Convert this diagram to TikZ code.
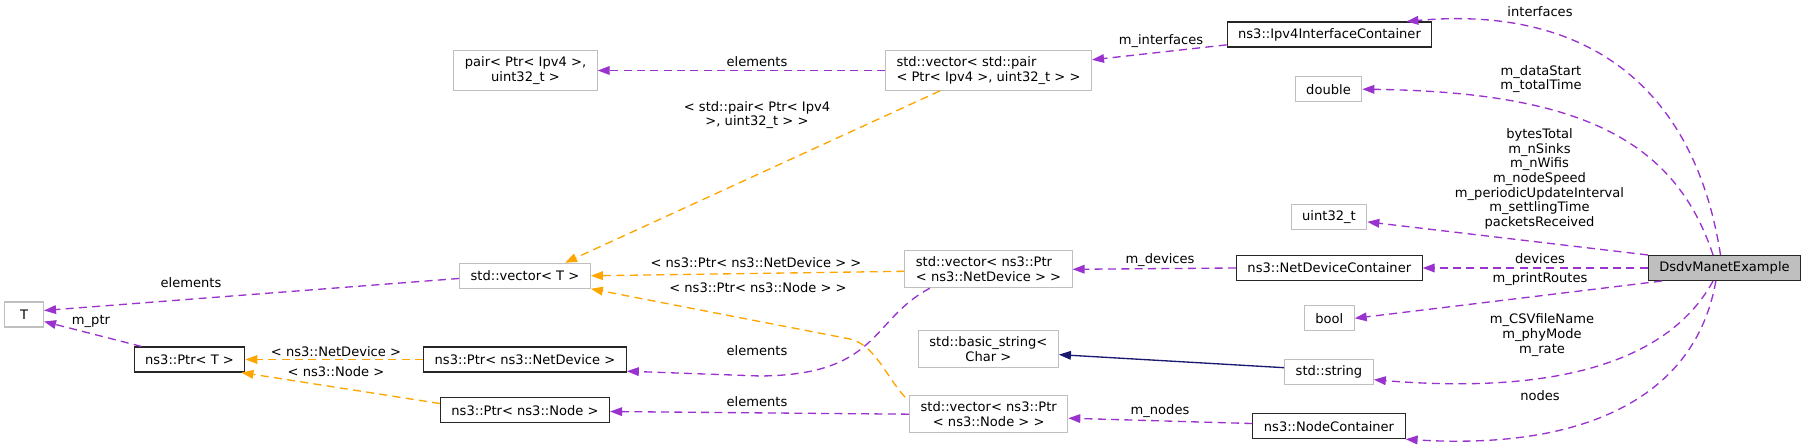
\documentclass[tikz,border=0pt]{standalone}
\usepackage{fontspec}
\setmainfont{DejaVu Sans}
\usetikzlibrary{arrows.meta}
\definecolor{usecol}{HTML}{9A32CD}
\definecolor{tplcol}{HTML}{FFA500}
\definecolor{inhcol}{HTML}{191970}
\definecolor{boxgray}{HTML}{BFBFBF}
\begin{document}
\begin{tikzpicture}[x=0.75pt, y=-0.75pt,
    font=\fontsize{9.8}{11}\selectfont,
    cls/.style={draw=black!85, line width=0.8pt, inner xsep=8.25pt, inner ysep=4.5pt, minimum height=18.75pt},
    ext/.style={cls, draw=boxgray},
    mainbox/.style={cls, fill=boxgray},
    use/.style={draw=usecol, line width=1pt, dash pattern=on 6pt off 4pt, -{Triangle[length=9pt,width=6.5pt]}},
    tpl/.style={use, draw=tplcol},
    inh/.style={draw=inhcol, line width=1pt, -{Triangle[length=9pt,width=6.5pt]}},
    lbl/.style={inner sep=0pt, align=center}]
    \useasboundingbox (0,0) rectangle (1807,445);

    % Classes
    \node[mainbox] (dsdv) at (1724.5,268) {DsdvManetExample};
    \node[cls] (ipv4IC) at (1329.5,34.5) {ns3::Ipv4InterfaceContainer};
    \node[ext] (double) at (1328.5,89.2) {double};
    \node[ext] (uint32) at (1329,217.2) {uint32\_t};
    \node[cls] (ndc) at (1329.3,268) {ns3::NetDeviceContainer};
    \node[ext] (bool) at (1329.2,318.3) {bool};
    \node[ext] (string) at (1329,371.7) {std::string};
    \node[cls] (nc) at (1329,426.2) {ns3::NodeContainer};
    \node[ext, align=left] (vecPair) at (988.5,70.5) {std::vector< std::pair\\< Ptr< Ipv4 >, uint32\_t > >};
    \node[ext, align=left] (vecND) at (988.5,269.3) {std::vector< ns3::Ptr\\< ns3::NetDevice > >};
    \node[ext, align=center] (basicStr) at (988.4,349.3) {std::basic\_string<\\Char >};
    \node[ext, align=center] (vecNode) at (988.7,414.2) {std::vector< ns3::Ptr\\< ns3::Node > >};
    \node[ext, align=center] (pair) at (525.5,70.5) {pair< Ptr< Ipv4 >,\\uint32\_t >};
    \node[ext] (vecT) at (525,275.8) {std::vector< T >};
    \node[cls] (ptrND) at (525,359.5) {ns3::Ptr< ns3::NetDevice >};
    \node[cls] (ptrNode) at (525,410.2) {ns3::Ptr< ns3::Node >};
    \node[cls] (ptrT) at (189.5,359.5) {ns3::Ptr< T >};
    \node[ext, minimum width=29.25pt] (T) at (24,314.5) {T};

    % Members of DsdvManetExample
    \draw[use] ([xshift=-3pt]dsdv.north) .. controls (1695,90) and (1590,5) .. ([xshift=-19.5pt]ipv4IC.north east);
    \node[lbl] at (1540,12) {interfaces};
    \draw[use] ([xshift=-8.6pt]dsdv.north) .. controls (1675,140) and (1580,92) .. (double.east);
    \node[lbl] at (1541,79) {m\_dataStart\\m\_totalTime};
    \draw[use] (dsdv.north west) -- ([yshift=-3.5pt]uint32.east);
    \node[lbl] at (1539.5,179) {bytesTotal\\m\_nSinks\\m\_nWifis\\m\_nodeSpeed\\m\_periodicUpdateInterval\\m\_settlingTime\\packetsReceived};
    \draw[use] (dsdv.west) -- (ndc.east);
    \node[lbl] at (1540,259) {devices};
    \draw[use] ([xshift=10.5pt]dsdv.south west) -- (bool.east);
    \node[lbl] at (1540,279) {m\_printRoutes};
    \draw[use] ([xshift=-8.6pt]dsdv.south) .. controls (1670,360) and (1560,395) .. ([yshift=-6pt]string.east);
    \node[lbl] at (1542,335) {m\_CSVfileName\\m\_phyMode\\m\_rate};
    \draw[use] ([xshift=-6.5pt]dsdv.south) .. controls (1695,400) and (1580,450) .. (nc.south east);
    \node[lbl] at (1540,396) {nodes};

    % Containers
    \draw[use] ([yshift=2pt]ipv4IC.south west) -- ([yshift=8pt]vecPair.east);
    \node[lbl] at (1161,41) {m\_interfaces};
    \draw[use] (ndc.west) -- (vecND.east);
    \node[lbl] at (1160,260) {m\_devices};
    \draw[use] ([yshift=2pt]nc.west) -- ([yshift=-3pt]vecNode.east);
    \node[lbl] at (1160,411) {m\_nodes};
    \draw[inh] ([yshift=3pt]string.west) -- ([yshift=-4pt]basicStr.east);

    % Vectors
    \draw[use] (vecPair.west) -- (pair.east);
    \node[lbl] at (757,62) {elements};
    \draw[tpl] ([xshift=-36.4pt]vecPair.south) -- ([xshift=30pt]vecT.north);
    \node[lbl] at (757,115) {< std::pair< Ptr< Ipv4\\>, uint32\_t > >};
    \draw[tpl] ([yshift=-1.5pt]vecND.west) -- (vecT.east);
    \node[lbl] at (756,263) {< ns3::Ptr< ns3::NetDevice > >};
    \draw[tpl] ([xshift=-3pt,yshift=-1.5pt]vecNode.north west) .. controls (885,375) and (875,345) .. (850,339) -- (vecT.south east);
    \node[lbl] at (758,288) {< ns3::Ptr< ns3::Node > >};
    \draw[use] ([xshift=-44pt]vecND.south) .. controls (870,320) and (880,375) .. (760,376) -- ([yshift=1pt]ptrND.south east);
    \node[lbl] at (757,351) {elements};
    \draw[use] (vecNode.west) -- ([yshift=-1pt]ptrNode.east);
    \node[lbl] at (757,402) {elements};

    % Templates
    \draw[use] ([yshift=-2pt]vecT.west) -- ([yshift=3pt]T.east);
    \node[lbl] at (191,283) {elements};
    \draw[use] ([xshift=-36pt]ptrT.north) -- ([yshift=4.5pt]T.south east);
    \node[lbl] at (91,321) {m\_ptr};
    \draw[tpl] (ptrND.west) -- (ptrT.east);
    \node[lbl] at (336,352) {< ns3::NetDevice >};
    \draw[tpl] ([yshift=5pt]ptrNode.west) -- ([xshift=-3pt]ptrT.south east);
    \node[lbl] at (336,372) {< ns3::Node >};
\end{tikzpicture}
\end{document}
